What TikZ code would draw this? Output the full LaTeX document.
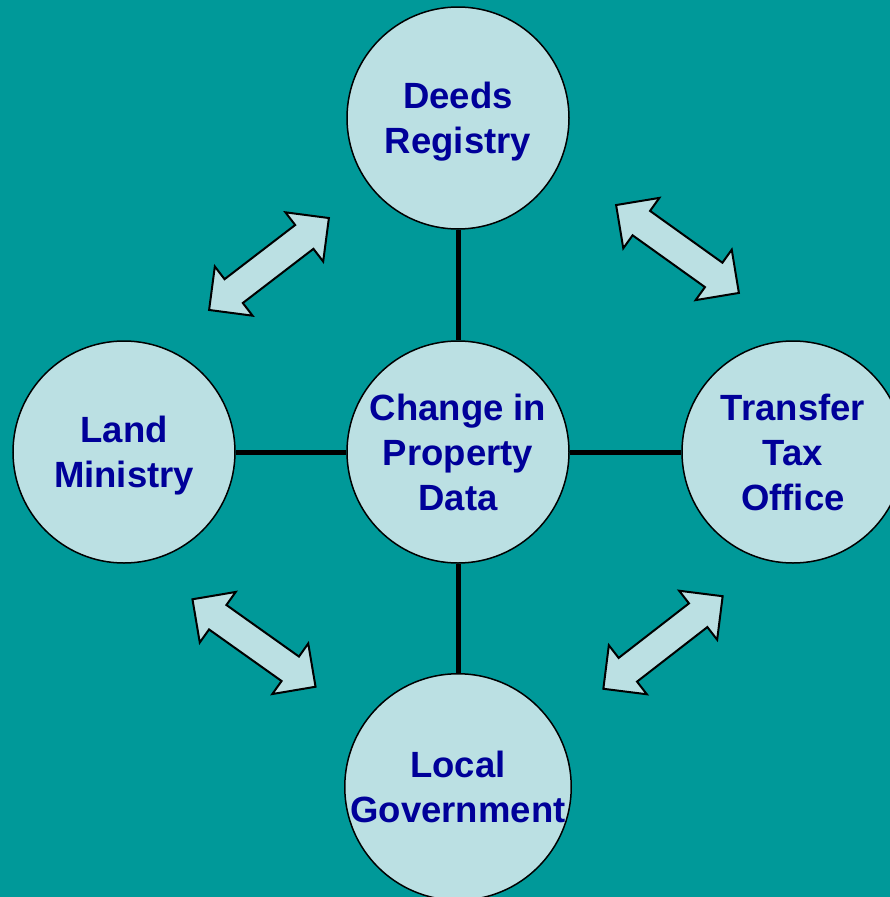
\documentclass[tikz,border=0pt]{standalone}
\usepackage{fontspec}
\setmainfont{Liberation Sans}
\usepackage{tikz}

\definecolor{seabg}{RGB}{0,153,153}
\definecolor{bubble}{RGB}{187,224,227}
\definecolor{ink}{RGB}{0,0,153}

\tikzset{
    office/.style={circle,draw=black,line width=1.5pt,fill=bubble,minimum size=222pt,inner sep=0pt,
        align=center,text=ink,text depth=0pt,font=\fontsize{36.5}{45}\selectfont\bfseries},
    link/.style={line width=5pt,black},
    twoway/.style={draw=black,line width=2pt,fill=bubble,line join=miter}
}

% double block arrow: #1 centre, #2 angle
\newcommand{\twoarrow}[2]{%
    \draw[twoway,shift={#1},rotate=#2] (-75.5,0) -- (-44.5,31) -- (-44.5,15) -- (44.5,15) -- (44.5,31)
        -- (75.5,0) -- (44.5,-31) -- (44.5,-15) -- (-44.5,-15) -- (-44.5,-31) -- cycle;}

\begin{document}
\begin{tikzpicture}[x=1pt,y=-1pt]
    \useasboundingbox (0,0) rectangle (890,897);
    \clip (0,0) rectangle (890,897);
    \fill[seabg] (0,0) rectangle (890,897);

    \begin{scope}[every node/.style={office}]
        \node (change) at (458,452) {Change in\\Property\\Data};
        \node (deeds) at (458,118) {Deeds\\Registry};
        \node (land) at (124,452) {Land\\Ministry};
        \node (tax) at (793,452) {Transfer\\Tax\\Office};
        \node (local) at (458,787) {Local\\Government};
    \end{scope}

    \begin{scope}
        \draw [link] (deeds) -- (change);
        \draw [link] (land) -- (change);
        \draw [link] (change) -- (tax);
        \draw [link] (change) -- (local);
    \end{scope}

    \twoarrow{(269,264)}{37.5}
    \twoarrow{(677.5,249)}{-35.6}
    \twoarrow{(254,643)}{-35.4}
    \twoarrow{(663,642.5)}{37.8}
\end{tikzpicture}
\end{document}
